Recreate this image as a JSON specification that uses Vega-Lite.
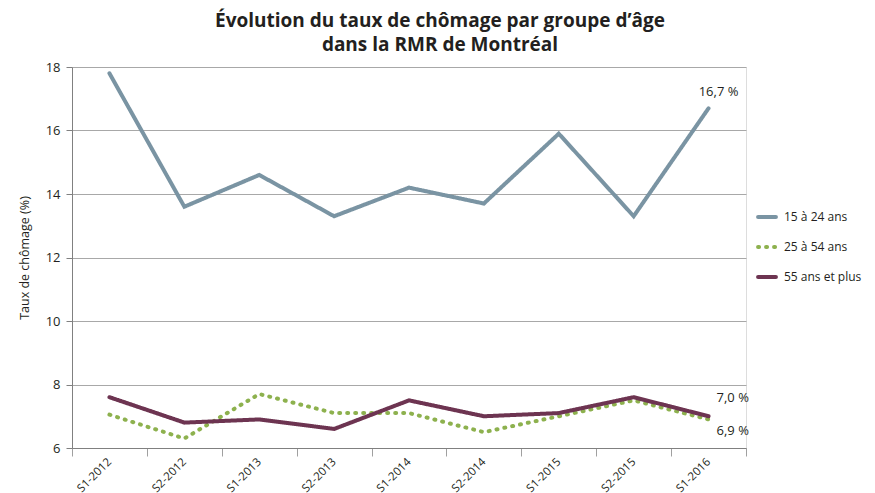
{
  "$schema": "https://vega.github.io/schema/vega-lite/v6.json",
  "width": 674,
  "height": 381,
  "autosize": {"type": "none"},
  "padding": {"left": 72, "top": 67, "right": 129, "bottom": 45},
  "background": "white",
  "title": {
    "text": ["Évolution du taux de chômage  par groupe d’âge", "dans la RMR de Montréal"],
    "font": "Open Sans",
    "fontSize": 19,
    "fontWeight": "bold",
    "color": "#231f20",
    "anchor": "middle",
    "dx": 31,
    "offset": 6,
    "lineHeight": 24
  },
  "data": {
    "values": [
      {"periode": "S1-2012", "groupe": "15 à 24 ans", "taux": 17.8},
      {"periode": "S2-2012", "groupe": "15 à 24 ans", "taux": 13.6},
      {"periode": "S1-2013", "groupe": "15 à 24 ans", "taux": 14.6},
      {"periode": "S2-2013", "groupe": "15 à 24 ans", "taux": 13.3},
      {"periode": "S1-2014", "groupe": "15 à 24 ans", "taux": 14.2},
      {"periode": "S2-2014", "groupe": "15 à 24 ans", "taux": 13.7},
      {"periode": "S1-2015", "groupe": "15 à 24 ans", "taux": 15.9},
      {"periode": "S2-2015", "groupe": "15 à 24 ans", "taux": 13.3},
      {"periode": "S1-2016", "groupe": "15 à 24 ans", "taux": 16.7, "etiquette": "16,7 %"},
      {"periode": "S1-2012", "groupe": "25 à 54 ans", "taux": 7.05},
      {"periode": "S2-2012", "groupe": "25 à 54 ans", "taux": 6.3},
      {"periode": "S1-2013", "groupe": "25 à 54 ans", "taux": 7.7},
      {"periode": "S2-2013", "groupe": "25 à 54 ans", "taux": 7.1},
      {"periode": "S1-2014", "groupe": "25 à 54 ans", "taux": 7.1},
      {"periode": "S2-2014", "groupe": "25 à 54 ans", "taux": 6.5},
      {"periode": "S1-2015", "groupe": "25 à 54 ans", "taux": 7.0},
      {"periode": "S2-2015", "groupe": "25 à 54 ans", "taux": 7.5},
      {"periode": "S1-2016", "groupe": "25 à 54 ans", "taux": 6.9, "etiquette": "6,9 %"},
      {"periode": "S1-2012", "groupe": "55 ans et plus", "taux": 7.6},
      {"periode": "S2-2012", "groupe": "55 ans et plus", "taux": 6.8},
      {"periode": "S1-2013", "groupe": "55 ans et plus", "taux": 6.9},
      {"periode": "S2-2013", "groupe": "55 ans et plus", "taux": 6.6},
      {"periode": "S1-2014", "groupe": "55 ans et plus", "taux": 7.5},
      {"periode": "S2-2014", "groupe": "55 ans et plus", "taux": 7.0},
      {"periode": "S1-2015", "groupe": "55 ans et plus", "taux": 7.1},
      {"periode": "S2-2015", "groupe": "55 ans et plus", "taux": 7.6},
      {"periode": "S1-2016", "groupe": "55 ans et plus", "taux": 7.0, "etiquette": "7,0 %"}
    ]
  },
  "encoding": {
    "x": {
      "field": "periode",
      "type": "ordinal",
      "sort": null,
      "scale": {"type": "band", "paddingInner": 0, "paddingOuter": 0},
      "axis": {
        "title": null,
        "labelAngle": -45,
        "labelAlign": "right",
        "labelBaseline": "middle",
        "labelFont": "Open Sans",
        "labelFontSize": 11.5,
        "labelColor": "#231f20",
        "labelPadding": 4,
        "tickBand": "extent",
        "ticks": true,
        "tickSize": 8,
        "tickColor": "#a0a0a0",
        "domainColor": "#808080",
        "grid": false
      }
    },
    "y": {
      "field": "taux",
      "type": "quantitative",
      "scale": {"domain": [6, 18], "nice": false, "zero": false},
      "axis": {
        "title": "Taux de chômage (%)",
        "titleFont": "Open Sans",
        "titleFontSize": 12.5,
        "titleFontWeight": "normal",
        "titleColor": "#231f20",
        "titlePadding": 14,
        "values": [6, 8, 10, 12, 14, 16, 18],
        "labelFont": "Open Sans",
        "labelFontSize": 13,
        "labelColor": "#231f20",
        "labelPadding": 6,
        "tickSize": 6,
        "tickColor": "#808080",
        "domainColor": "#808080",
        "grid": true,
        "gridColor": "#a8a8a8",
        "gridWidth": 1
      }
    }
  },
  "layer": [
    {
      "mark": {"type": "line", "strokeWidth": 4, "strokeCap": "round"},
      "encoding": {
        "color": {
          "field": "groupe",
          "type": "nominal",
          "scale": {
            "domain": ["15 à 24 ans", "25 à 54 ans", "55 ans et plus"],
            "range": ["#7a94a3", "#8db14e", "#6d3451"]
          },
          "legend": {
            "title": null,
            "orient": "none",
            "legendX": 684,
            "legendY": 139,
            "symbolType": "stroke",
            "symbolStrokeWidth": 4,
            "symbolSize": 320,
            "labelFont": "Open Sans",
            "labelFontSize": 12,
            "labelColor": "#231f20",
            "rowPadding": 11,
            "labelOffset": 6,
            "encode": {"symbols": {"update": {"strokeCap": {"value": "round"}}}}
          }
        },
        "strokeDash": {
          "field": "groupe",
          "type": "nominal",
          "scale": {
            "domain": ["15 à 24 ans", "25 à 54 ans", "55 ans et plus"],
            "range": [[1, 0], [1, 7], [1, 0]]
          },
          "legend": null
        }
      }
    },
    {
      "transform": [{"filter": "datum.etiquette == '16,7 %'"}],
      "mark": {"type": "text", "font": "Open Sans", "fontSize": 13, "color": "#231f20", "dy": -16, "dx": 10},
      "encoding": {"text": {"field": "etiquette"}}
    },
    {
      "transform": [{"filter": "datum.etiquette == '7,0 %'"}],
      "mark": {"type": "text", "font": "Open Sans", "fontSize": 13, "color": "#231f20", "align": "left", "dx": 8, "dy": -18},
      "encoding": {"text": {"field": "etiquette"}}
    },
    {
      "transform": [{"filter": "datum.etiquette == '6,9 %'"}],
      "mark": {"type": "text", "font": "Open Sans", "fontSize": 13, "color": "#231f20", "align": "left", "dx": 8, "dy": 12},
      "encoding": {"text": {"field": "etiquette"}}
    }
  ]
}
